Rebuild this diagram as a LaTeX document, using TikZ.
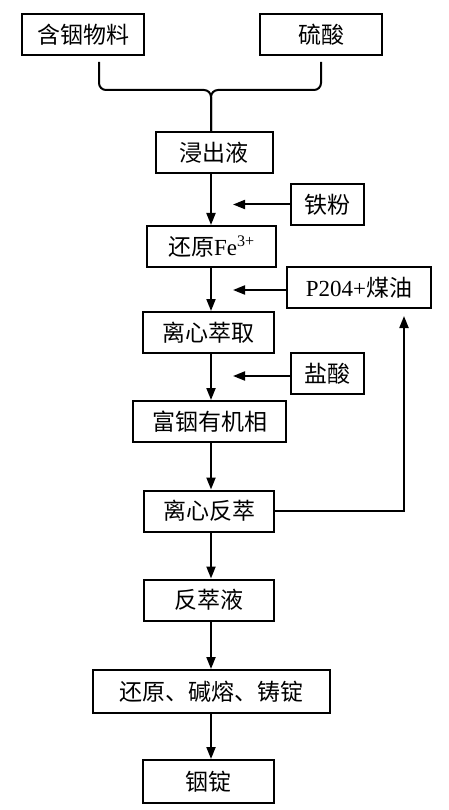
\documentclass[tikz,border=0pt]{standalone}
\usepackage{fontspec}
\setmainfont{Liberation Serif}
\newfontfamily\cjk{Noto Sans CJK SC}
\usetikzlibrary{positioning, arrows.meta}

\tikzset{
  stepbox/.style={draw, line width=2pt, minimum height=41pt, inner sep=0pt,
                  font=\fontsize{23}{26}\selectfont},
  flow/.style={line width=2pt, -{Triangle[length=12pt, width=9pt]}},
  joint/.style={line width=2pt, rounded corners=7pt},
}

\begin{document}
\begin{tikzpicture}[x=1pt, y=-1pt]
  \useasboundingbox (0,0) rectangle (449,810);
  \node[stepbox, minimum width=122pt] (material) at (83,35) {\cjk 含铟物料};
  \node[stepbox, minimum width=122pt] (acid) at (321,35) {\cjk 硫酸};
  \node[stepbox, minimum width=117pt] (leach) at (214,152.5) {\cjk 浸出液};
  \node[stepbox, minimum width=129pt] (reduce) at (211.5,246.5) {{\cjk 还原}Fe\textsuperscript{3+}};
  \node[stepbox, minimum width=73pt] (iron) at (327.5,204.5) {\cjk 铁粉};
  \node[stepbox, minimum width=144pt] (solvent) at (359,287.5) {P204+{\cjk 煤油}};
  \node[stepbox, minimum width=131pt] (extract) at (208.5,332.5) {\cjk 离心萃取};
  \node[stepbox, minimum width=73pt] (hcl) at (327.5,373.5) {\cjk 盐酸};
  \node[stepbox, minimum width=153pt] (organic) at (209.5,421.5) {\cjk 富铟有机相};
  \node[stepbox, minimum width=130pt] (strip) at (209,511) {\cjk 离心反萃};
  \node[stepbox, minimum width=130pt] (stripliq) at (209,600) {\cjk 反萃液};
  \node[stepbox, minimum width=237pt, minimum height=43pt] (smelt) at (211.5,691.5) {\cjk 还原、碱熔、铸锭};
  \node[stepbox, minimum width=131pt, minimum height=43pt] (ingot) at (208.5,781.5) {\cjk 铟锭};

  \coordinate (matfoot) at (99,62);
  \coordinate (acidfoot) at (321,62);
  \coordinate (merge) at (211,90);
  \coordinate (ironend) at (233,204.5);
  \coordinate (solvend) at (233,290);
  \coordinate (hclend) at (233,376);
  \coordinate (back) at (404,511);

  \draw[joint] (matfoot) |- (merge) -- (merge |- leach.north);
  \draw[joint] (acidfoot) |- (merge) -- (merge |- leach.north);

  \draw[flow] (leach.south -| merge) -- (reduce.north -| merge);
  \draw[flow] (reduce.south -| merge) -- (extract.north -| merge);
  \draw[flow] (extract.south -| merge) -- (organic.north -| merge);
  \draw[flow] (organic.south -| merge) -- (strip.north -| merge);
  \draw[flow] (strip.south -| merge) -- (stripliq.north -| merge);
  \draw[flow] (stripliq.south -| merge) -- (smelt.north -| merge);
  \draw[flow] (smelt.south -| merge) -- (ingot.north -| merge);

  \draw[flow] (iron.west) -- (ironend);
  \draw[flow] (solvent.west |- solvend) -- (solvend);
  \draw[flow] (hcl.west |- hclend) -- (hclend);
  \draw[flow, shorten >=7pt] (strip.east) -- (back) -- (back |- solvent.south);
\end{tikzpicture}
\end{document}
